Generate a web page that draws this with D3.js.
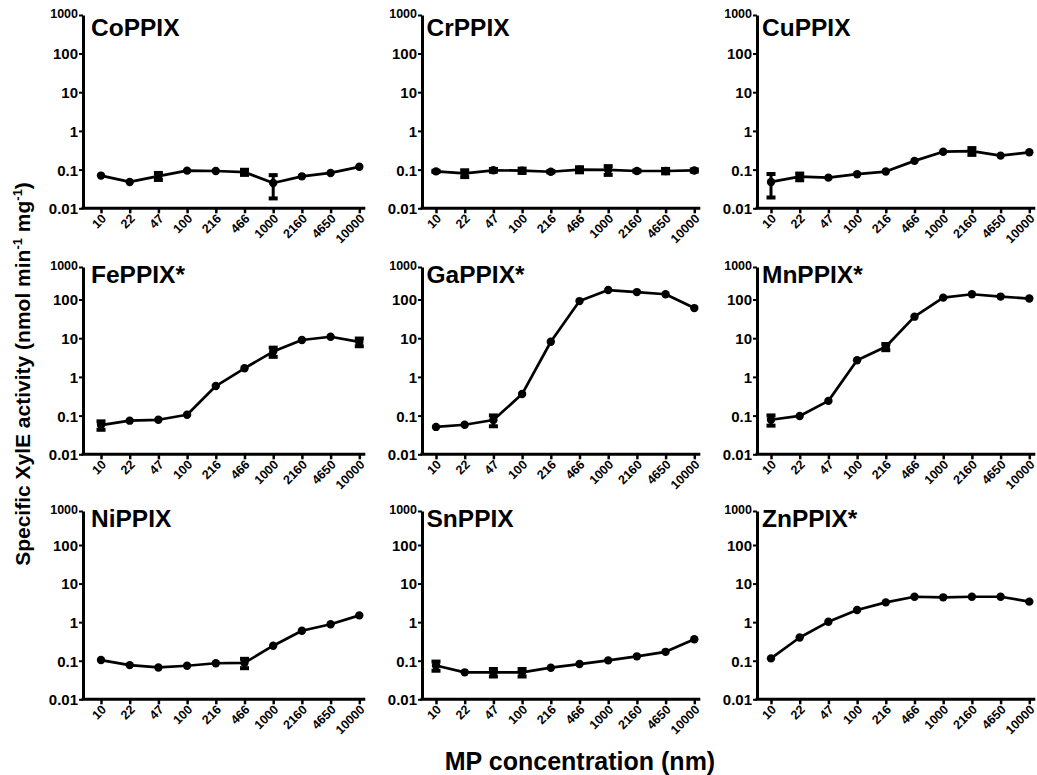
<!DOCTYPE html>
<html>
<head>
<meta charset="utf-8">
<script src="https://cdn.jsdelivr.net/npm/d3@7"></script>
<style>
    body { margin: 0; background: #fff; }
    text { font-family: "Liberation Sans", Arial, sans-serif; font-weight: bold; fill: #000; }
</style>
</head>
<body>
<div id="chart"></div>
<script>
// Data
// ==================================================================
const concLabels = ["10", "22", "47", "100", "216", "466", "1000", "2160", "4650", "10000"];
const yTicks = [0.01, 0.1, 1, 10, 100, 1000];
const yTickLabels = ["0.01", "0.1", "1", "10", "100", "1000"];

const panelNames = ["CoPPIX", "CrPPIX", "CuPPIX", "FePPIX*", "GaPPIX*", "MnPPIX*", "NiPPIX", "SnPPIX", "ZnPPIX*"];

const coppix    = [0.07, 0.048, 0.068, 0.094, 0.092, 0.086, 0.045, 0.067, 0.082, 0.118];
const coppixErr = [0, 0, 0.014, 0, 0, 0.013, 0.027, 0, 0, 0];
const crppix    = [0.09, 0.08, 0.096, 0.094, 0.088, 0.1, 0.098, 0.092, 0.092, 0.095];
const crppixErr = [0.003, 0.016, 0.008, 0.012, 0.003, 0.015, 0.025, 0.003, 0.012, 0.006];
const cuppix    = [0.048, 0.066, 0.062, 0.076, 0.089, 0.168, 0.29, 0.3, 0.23, 0.28];
const cuppixErr = [0.029, 0.013, 0, 0, 0, 0, 0, 0.06, 0, 0];
const feppix    = [0.057, 0.074, 0.078, 0.105, 0.58, 1.67, 4.5, 9.0, 10.9, 8.0];
const feppixErr = [0.014, 0, 0, 0, 0, 0, 1.2, 0, 0, 1.8];
const gappix    = [0.051, 0.058, 0.077, 0.36, 8.1, 91, 195, 169, 145, 60];
const gappixErr = [0, 0, 0.024, 0, 0, 0, 0, 0, 0, 0];
const mnppix    = [0.078, 0.098, 0.24, 2.7, 6.0, 36, 114, 145, 123, 107];
const mnppixErr = [0.023, 0, 0, 0, 1.1, 0, 0, 0, 0, 0];
const nippix    = [0.104, 0.077, 0.067, 0.074, 0.086, 0.088, 0.245, 0.6, 0.88, 1.5];
const nippixErr = [0, 0, 0, 0, 0, 0.024, 0, 0, 0, 0];
const snppix    = [0.075, 0.05, 0.05, 0.05, 0.066, 0.082, 0.102, 0.13, 0.17, 0.36];
const snppixErr = [0.02, 0, 0.011, 0.011, 0, 0, 0, 0, 0, 0];
const znppix    = [0.115, 0.4, 1.02, 2.06, 3.26, 4.55, 4.4, 4.55, 4.55, 3.4];
const znppixErr = [0, 0, 0, 0, 0, 0, 0, 0, 0, 0];

const panelValues = [coppix, crppix, cuppix, feppix, gappix, mnppix, nippix, snppix, znppix];
const panelErrors = [coppixErr, crppixErr, cuppixErr, feppixErr, gappixErr, mnppixErr, nippixErr, snppixErr, znppixErr];

// Layout
// ==================================================================
const width = 1037,
    height = 775;

const colAxisX = [83, 422, 757],
    colFirstX = [101, 436, 771],
    colStep = 28.7,
    titleDx = [8, 4.5, 5];

// y position of 0.01, 100 and 1000 in each row
const rowBottom = [208.3, 454.3, 699.3],
    row100 = [53.5, 299.5, 545],
    rowTop = [15, 267, 511],
    titleY = [36, 283, 527];

// Svg
// ==================================================================
const svg = d3.select("#chart")
    .append("svg")
        .attr("width", width)
        .attr("height", height);

// Panels
// ==================================================================
panelNames.forEach((name, k) => {
    const r = Math.floor(k / 3),
        c = k % 3;

    const xScale = d3.scalePoint()
        .domain(concLabels)
        .range([colFirstX[c], colFirstX[c] + 9 * colStep]);

    const yScale = d3.scaleLog()
        .domain([0.01, 100, 1000])
        .range([rowBottom[r], row100[r], rowTop[r]]);

    const g = svg.append("g");

    // y axis
    const yAxis = g.append("g")
        .attr("transform", "translate(" + colAxisX[c] + ",0)")
        .call(d3.axisLeft(yScale)
            .tickValues(yTicks)
            .tickFormat((d, i) => yTickLabels[i])
            .tickSize(4)
            .tickSizeOuter(0)
            .tickPadding(1));
    yAxis.select(".domain").attr("stroke-width", 3);
    yAxis.selectAll(".tick line").attr("stroke-width", 2);
    yAxis.selectAll(".tick text")
        .attr("font-size", (d) => d === 1000 ? "12.5px" : "15px")
        .attr("dy", (d) => d === 1000 ? "0.2em" : "0.36em");

    // x axis
    const xAxis = g.append("g")
        .attr("transform", "translate(0," + rowBottom[r] + ")")
        .call(d3.axisBottom(xScale).tickSize(5).tickSizeOuter(0));
    xAxis.select(".domain").remove();
    xAxis.selectAll(".tick line").attr("stroke-width", 2.5);
    xAxis.selectAll(".tick text")
        .attr("x", 0)
        .attr("y", 0)
        .attr("dy", null)
        .attr("font-size", "12.5px")
        .attr("text-anchor", "end")
        .attr("transform", "translate(5.5,11) rotate(-45)");

    g.append("line")
        .attr("x1", colAxisX[c] - 1.5)
        .attr("x2", xScale(concLabels[9]) + 6)
        .attr("y1", rowBottom[r])
        .attr("y2", rowBottom[r])
        .attr("stroke", "#000")
        .attr("stroke-width", 3);

    // title
    g.append("text")
        .attr("x", colAxisX[c] + titleDx[c])
        .attr("y", titleY[r])
        .attr("font-size", "24.5px")
        .text(name);

    const values = panelValues[k],
        errors = panelErrors[k];

    // line
    g.append("path")
        .datum(values)
        .attr("fill", "none")
        .attr("stroke", "#000")
        .attr("stroke-width", 2.7)
        .attr("stroke-linejoin", "round")
        .attr("d", d3.line()
            .x((d, i) => xScale(concLabels[i]))
            .y((d) => yScale(d)));

    // error bars
    const eb = g.selectAll("g.err")
        .data(values.map((v, i) => ({v: v, e: errors[i], i: i})).filter((d) => d.e > 0))
        .enter()
        .append("g")
            .attr("class", "err");
    eb.append("line")
        .attr("x1", (d) => xScale(concLabels[d.i]))
        .attr("x2", (d) => xScale(concLabels[d.i]))
        .attr("y1", (d) => yScale(d.v + d.e))
        .attr("y2", (d) => yScale(d.v - d.e))
        .attr("stroke", "#000")
        .attr("stroke-width", 3);
    [1, -1].forEach((s) => {
        eb.append("line")
            .attr("x1", (d) => xScale(concLabels[d.i]) - 4.5)
            .attr("x2", (d) => xScale(concLabels[d.i]) + 4.5)
            .attr("y1", (d) => yScale(d.v + s * d.e))
            .attr("y2", (d) => yScale(d.v + s * d.e))
            .attr("stroke", "#000")
            .attr("stroke-width", 4);
    });

    // points
    g.selectAll("circle.pt")
        .data(values)
        .enter()
        .append("circle")
            .attr("class", "pt")
            .attr("cx", (d, i) => xScale(concLabels[i]))
            .attr("cy", (d) => yScale(d))
            .attr("r", 4.2)
            .attr("fill", "#000");
});

// Axis titles
// ==================================================================
const yTitle = svg.append("text")
    .attr("transform", "translate(30,374) rotate(-90)")
    .attr("text-anchor", "middle")
    .attr("font-size", "21px");
yTitle.append("tspan").text("Specific XylE activity (nmol min");
yTitle.append("tspan").attr("dy", -8).attr("font-size", "13px").text("-1");
yTitle.append("tspan").attr("dy", 8).text(" mg");
yTitle.append("tspan").attr("dy", -8).attr("font-size", "13px").text("-1");
yTitle.append("tspan").attr("dy", 8).text(")");

svg.append("text")
    .attr("x", 580)
    .attr("y", 770)
    .attr("text-anchor", "middle")
    .attr("font-size", "25px")
    .text("MP concentration (nm)");
</script>
</body>
</html>
